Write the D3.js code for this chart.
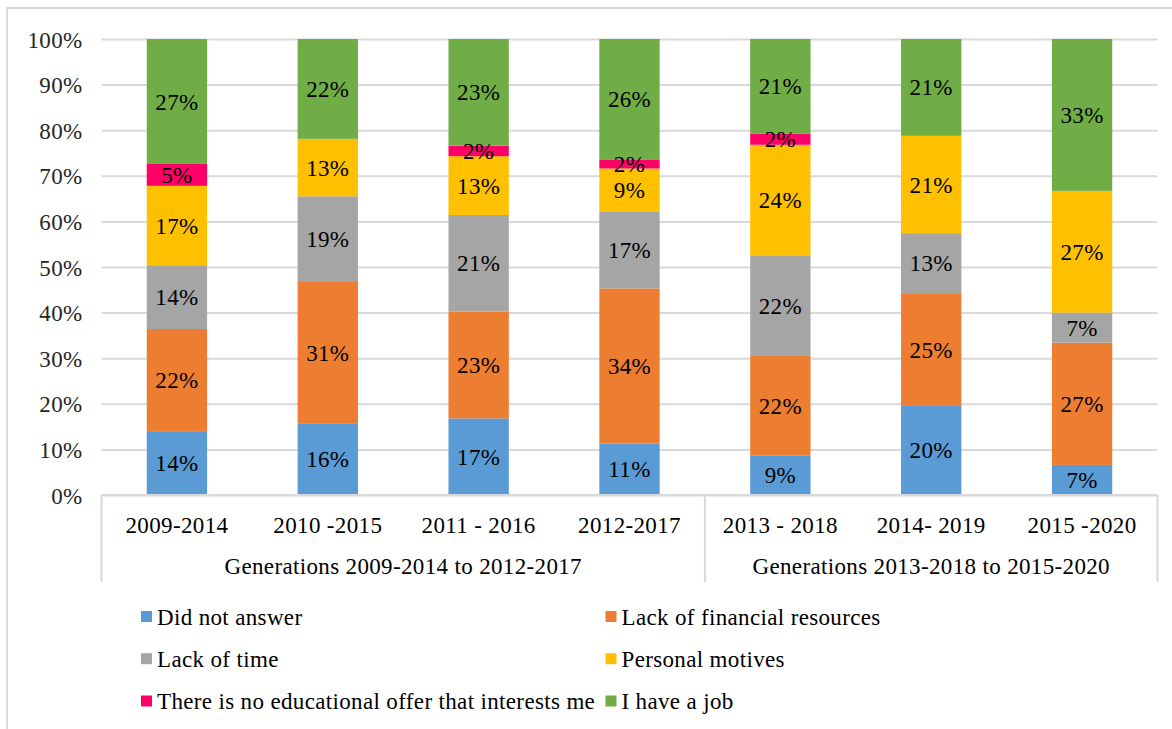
<!DOCTYPE html>
<html><head><meta charset="utf-8">
<script src="https://cdn.jsdelivr.net/npm/d3@7"></script>
<style>
body{margin:0;background:#fff;}
text{font-family:"Liberation Serif","Times New Roman",serif;}
</style>
</head><body>
<svg id="c" width="1172" height="729"></svg>
<script>
const categories = ["2009-2014","2010 -2015","2011 - 2016","2012-2017","2013 - 2018","2014- 2019","2015 -2020"];
const groups = ["Generations 2009-2014 to 2012-2017","Generations 2013-2018 to 2015-2020"];
const groupSizes = [4,3];
const seriesNames = ["Did not answer","Lack of financial resources","Lack of time","Personal motives","There is no educational offer that interests me","I have a job"];
const didNotAnswer   = [14.0,15.6,16.8,11.3, 8.6,19.6, 6.6];
const lackFinancial  = [22.4,31.3,23.4,34.0,21.9,24.8,26.8];
const lackTime       = [14.0,18.6,21.2,16.9,21.9,13.2, 6.6];
const personalMotive = [17.4,12.6,12.9, 9.4,24.4,21.4,26.7];
const noOffer        = [ 4.8, 0.0, 2.3, 2.0, 2.4, 0.0, 0.0];
const haveJob        = [27.4,21.9,23.4,26.4,20.8,21.3,33.3];
const yTicks = [0,0.1,0.2,0.3,0.4,0.5,0.6,0.7,0.8,0.9,1];
const colors = ["#5B9BD5","#ED7D31","#A5A5A5","#FFC000","#FF0066","#70AD47"];

const seriesArrays = [didNotAnswer,lackFinancial,lackTime,personalMotive,noOffer,haveJob];
const rows = categories.map((c,i)=>{
  const o={cat:c};
  seriesNames.forEach((s,j)=>o[s]=seriesArrays[j][i]);
  return o;
});

const svg = d3.select("#c");
const FS = 23, LS = "0.35px";
const L = 101.5, R = 1157.5, T = 39, B = 495;

// outer border
svg.append("rect").attr("x",7).attr("y",8).attr("width",1300).attr("height",900)
  .attr("fill","none").attr("stroke","#D9D9D9").attr("stroke-width",2);

const x = d3.scaleBand().domain(categories).range([L,R]).paddingInner(0.6).paddingOuter(0.3);
const y = d3.scaleLinear().domain([0,1]).range([B,T]);

// grid + y axis
const yAxis = d3.axisLeft(y).tickValues(yTicks).tickFormat(d3.format(".0%"))
  .tickSize(-(R-L)).tickPadding(19);
const yg = svg.append("g").attr("transform",`translate(${L},0)`).call(yAxis);
yg.select(".domain").remove();
yg.selectAll(".tick line").attr("stroke","#D9D9D9").attr("stroke-width",2);
yg.selectAll(".tick text").attr("font-size",FS).attr("letter-spacing",LS)
  .attr("fill","#262626").attr("dy","0.35em").style("font-family",'"Liberation Serif",serif');

// stacked bars
const stack = d3.stack().keys(seriesNames).offset(d3.stackOffsetExpand);
const stacked = stack(rows);
const layers = svg.append("g").selectAll("g").data(stacked).join("g")
  .attr("fill",(d,i)=>colors[i]);
layers.selectAll("rect").data(d=>d).join("rect")
  .attr("x",d=>x(d.data.cat)).attr("width",x.bandwidth())
  .attr("y",d=>y(d[1])).attr("height",d=>y(d[0])-y(d[1]));

// data labels
const lab = svg.append("g");
stacked.forEach((layer,si)=>{
  layer.forEach(d=>{
    const v = d.data[layer.key];
    if(!v) return;
    lab.append("text").attr("x",x(d.data.cat)+x.bandwidth()/2)
      .attr("y",(y(d[0])+y(d[1]))/2).attr("dy","0.35em")
      .attr("text-anchor","middle").attr("font-size",FS).attr("letter-spacing",LS)
      .attr("fill","#000").text(Math.round(v)+"%");
  });
});

// x axis
const xAxis = d3.axisBottom(x).tickSize(0);
const xg = svg.append("g").attr("transform",`translate(0,${B})`).call(xAxis);
xg.select(".domain").remove();
xg.selectAll(".tick text").attr("y",30).attr("dy","0.35em").attr("font-size",FS)
  .attr("letter-spacing",LS).attr("fill","#000").style("font-family",'"Liberation Serif",serif');

// axis lines
svg.append("line").attr("x1",L).attr("x2",R).attr("y1",B).attr("y2",B)
  .attr("stroke","#D9D9D9").attr("stroke-width",2);
const half = (x.step()-x.bandwidth())/2;
let idx = 0;
const bounds=[L];
groups.forEach((g,gi)=>{
  const first = categories[idx], last = categories[idx+groupSizes[gi]-1];
  const x0 = x(first)-half, x1 = x(last)+x.bandwidth()+half;
  bounds.push(x1);
  svg.append("text").attr("x",(x0+x1)/2).attr("y",566).attr("dy","0.35em")
    .attr("text-anchor","middle").attr("font-size",FS).attr("letter-spacing",LS)
    .attr("fill","#000").text(g);
  idx += groupSizes[gi];
});
bounds.forEach(bx=>{
  svg.append("line").attr("x1",bx).attr("x2",bx).attr("y1",B).attr("y2",582)
    .attr("stroke","#D9D9D9").attr("stroke-width",2);
});

// legend
const legX = [141,605.5], legY = [616.5,658.7,701];
seriesNames.forEach((s,i)=>{
  const cx = legX[i%2], cy = legY[Math.floor(i/2)];
  svg.append("rect").attr("x",cx).attr("y",cy-5.5).attr("width",11).attr("height",11).attr("fill",colors[i]);
  svg.append("text").attr("x",cx+16).attr("y",cy).attr("dy","0.35em")
    .attr("font-size",FS).attr("letter-spacing",LS).attr("fill","#000").text(s);
});
</script>
</body></html>
